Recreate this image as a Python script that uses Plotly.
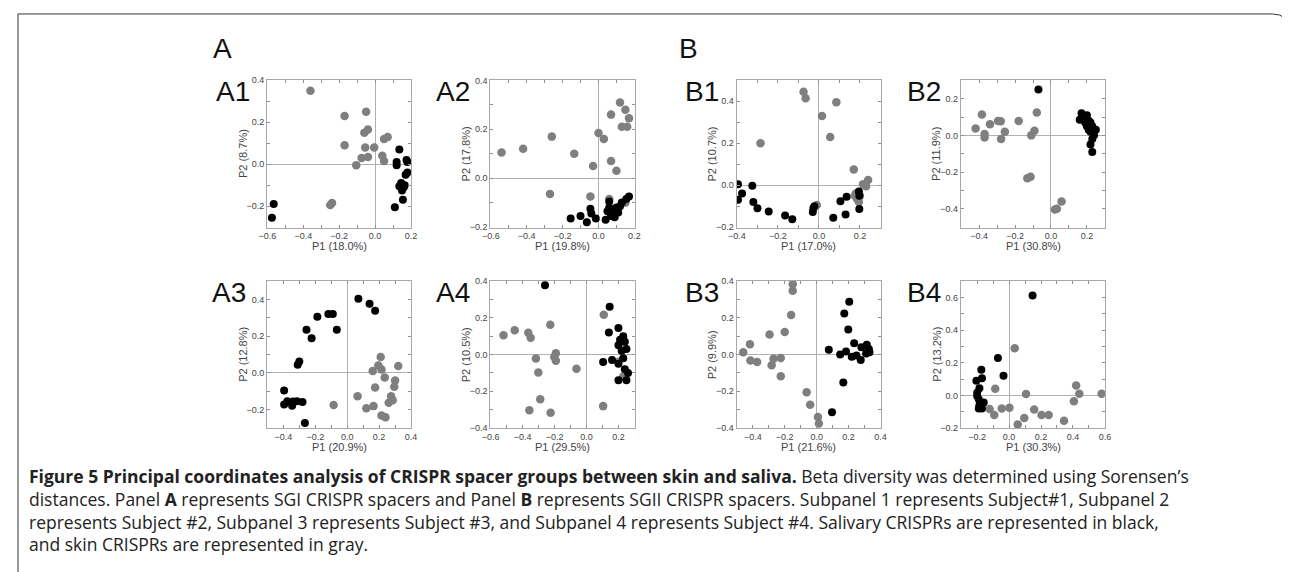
import plotly.graph_objects as go

# ---- data (skin = gray, saliva = black) ----
a1_skin_x = [-0.36, -0.17, -0.05, -0.04, -0.06, -0.17, 0.07, 0.05, -0.055, -0.005, -0.075, -0.04, -0.105, 0.04, 0.05, -0.24, -0.25]
a1_skin_y = [0.35, 0.23, 0.25, 0.165, 0.15, 0.09, 0.13, 0.12, 0.08, 0.08, 0.03, 0.035, -0.005, 0.04, 0.015, -0.185, -0.195]
a1_saliva_x = [-0.565, -0.575, 0.135, 0.12, 0.12, 0.175, 0.18, 0.17, 0.18, 0.135, 0.165, 0.15, 0.16, 0.155, 0.11, 0.145]
a1_saliva_y = [-0.19, -0.255, 0.07, -0.005, 0.01, 0.02, 0.01, -0.05, -0.04, -0.105, -0.1, -0.125, -0.11, -0.17, -0.205, -0.09]

a2_skin_x = [-0.54, -0.42, -0.26, -0.135, -0.03, 0.0, 0.03, 0.07, 0.07, -0.27, -0.045, 0.06, 0.12, 0.15, 0.13, 0.16, 0.17, 0.1, 0.15]
a2_skin_y = [0.105, 0.12, 0.17, 0.1, 0.05, 0.185, 0.16, 0.26, 0.07, -0.065, -0.075, -0.085, 0.31, 0.28, 0.21, 0.21, 0.245, 0.03, -0.1]
a2_saliva_x = [-0.155, -0.1, -0.065, -0.045, -0.04, -0.015, 0.04, 0.05, 0.06, 0.07, 0.08, 0.09, 0.11, 0.12, 0.13, 0.155, 0.17, 0.1, 0.06]
a2_saliva_y = [-0.165, -0.155, -0.18, -0.125, -0.145, -0.165, -0.17, -0.135, -0.12, -0.155, -0.13, -0.16, -0.14, -0.115, -0.1, -0.085, -0.075, -0.12, -0.095]

b1_skin_x = [-0.075, -0.065, 0.085, 0.015, 0.055, -0.285, 0.17, 0.24, 0.215, 0.23, 0.175, 0.185, 0.195, 0.18, -0.01, 0.2]
b1_skin_y = [0.445, 0.415, 0.395, 0.33, 0.23, 0.2, 0.075, 0.025, 0.005, -0.005, -0.05, -0.065, -0.08, -0.04, -0.095, -0.05]
b1_saliva_x = [-0.395, -0.395, -0.375, -0.325, -0.32, -0.3, -0.245, -0.165, -0.13, -0.03, -0.027, -0.022, 0.07, 0.105, 0.13, 0.135, 0.195, 0.197, 0.197]
b1_saliva_y = [0.005, -0.07, -0.04, -0.003, -0.08, -0.11, -0.125, -0.145, -0.163, -0.128, -0.11, -0.1, -0.155, -0.077, -0.14, -0.055, -0.03, -0.05, -0.113]

b2_skin_x = [-0.42, -0.385, -0.34, -0.295, -0.28, -0.37, -0.37, -0.257, -0.278, -0.18, -0.11, -0.092, -0.079, -0.132, -0.114, 0.022, 0.033, 0.059]
b2_skin_y = [0.038, 0.114, 0.06, 0.078, 0.077, 0.007, -0.011, 0.02, -0.02, 0.078, 0.0, 0.025, 0.125, -0.234, -0.225, -0.404, -0.4, -0.36]
b2_saliva_x = [-0.07, 0.16, 0.17, 0.19, 0.2, 0.21, 0.22, 0.2, 0.23, 0.24, 0.22, 0.24, 0.23, 0.25, 0.22, 0.23, 0.19, 0.21]
b2_saliva_y = [0.25, 0.085, 0.12, 0.1, 0.11, 0.08, 0.07, 0.05, 0.05, 0.03, 0.02, 0.0, -0.02, 0.03, -0.05, -0.09, 0.07, 0.03]

a3_skin_x = [-0.085, 0.21, 0.195, 0.215, 0.16, 0.32, 0.235, 0.3, 0.295, 0.175, 0.065, 0.275, 0.285, 0.26, 0.165, 0.12, 0.215, 0.24]
a3_skin_y = [-0.175, 0.087, 0.04, 0.019, 0.01, 0.037, -0.025, -0.042, -0.076, -0.08, -0.127, -0.127, -0.149, -0.163, -0.181, -0.193, -0.232, -0.242]
a3_saliva_x = [0.07, 0.14, 0.175, -0.118, -0.09, -0.187, -0.255, -0.065, -0.223, -0.3, -0.31, -0.395, -0.395, -0.375, -0.34, -0.315, -0.28, -0.345, -0.265]
a3_saliva_y = [0.404, 0.377, 0.338, 0.32, 0.32, 0.306, 0.235, 0.235, 0.188, 0.062, 0.044, -0.096, -0.172, -0.154, -0.156, -0.154, -0.158, -0.179, -0.273]

a4_skin_x = [-0.52, -0.45, -0.365, -0.35, -0.227, -0.192, -0.202, -0.192, -0.317, -0.302, -0.063, -0.29, -0.358, -0.225, 0.104, 0.108, 0.2, 0.23]
a4_skin_y = [0.105, 0.132, 0.119, 0.091, 0.162, 0.007, -0.014, -0.034, -0.021, -0.098, -0.077, -0.244, -0.304, -0.317, -0.281, 0.217, -0.04, -0.12]
a4_saliva_x = [-0.26, 0.145, 0.104, 0.14, 0.2, 0.23, 0.24, 0.2, 0.22, 0.25, 0.23, 0.2, 0.24, 0.26, 0.2, 0.25, 0.16, 0.21]
a4_saliva_y = [0.377, 0.26, -0.041, 0.12, 0.145, 0.1, 0.07, 0.05, 0.02, 0.03, -0.02, -0.05, -0.08, -0.1, -0.14, -0.14, -0.03, 0.08]

b3_skin_x = [-0.15, -0.15, -0.16, -0.2, -0.295, -0.418, -0.46, -0.415, -0.373, -0.27, -0.282, -0.225, -0.225, -0.063, -0.041, 0.008, 0.014]
b3_skin_y = [0.383, 0.347, 0.215, 0.123, 0.109, 0.056, 0.012, -0.032, -0.041, -0.023, -0.058, -0.019, -0.118, -0.206, -0.273, -0.34, -0.376]
b3_saliva_x = [0.204, 0.173, 0.198, 0.076, 0.147, 0.184, 0.235, 0.22, 0.249, 0.276, 0.28, 0.314, 0.327, 0.331, 0.31, 0.167, 0.096]
b3_saliva_y = [0.287, 0.224, 0.136, 0.026, 0.0, 0.016, 0.062, -0.012, -0.005, -0.03, 0.039, 0.053, 0.03, 0.012, 0.005, -0.153, -0.314]

b4_skin_x = [0.035, -0.087, 0.106, 0.42, 0.406, -0.122, -0.093, -0.046, 0.002, 0.054, 0.095, 0.157, 0.203, 0.248, 0.344, 0.44, 0.58]
b4_skin_y = [0.289, 0.04, 0.008, 0.06, -0.036, -0.084, -0.12, -0.08, -0.076, -0.179, -0.139, -0.086, -0.12, -0.12, -0.155, 0.01, 0.01]
b4_saliva_x = [0.147, -0.07, -0.035, -0.174, -0.17, -0.205, -0.186, -0.2, -0.2, -0.19, -0.18, -0.159, -0.19, -0.17, -0.186]
b4_saliva_y = [0.612, 0.229, 0.12, 0.157, 0.104, 0.09, 0.044, 0.016, -0.004, -0.024, -0.044, -0.044, -0.08, -0.08, -0.06]

panel_names = ['A1', 'A2', 'B1', 'B2', 'A3', 'A4', 'B3', 'B4']
p1_titles = ['P1 (18.0%)', 'P1 (19.8%)', 'P1 (17.0%)', 'P1 (30.8%)', 'P1 (20.9%)', 'P1 (29.5%)', 'P1 (21.6%)', 'P1 (30.3%)']
p2_titles = ['P2 (8.7%)', 'P2 (17.8%)', 'P2 (10.7%)', 'P2 (11.9%)', 'P2 (12.8%)', 'P2 (10.5%)', 'P2 (9.9%)', 'P2 (13.2%)']
x_ranges = [[-0.6, 0.2], [-0.6, 0.2], [-0.4, 0.3], [-0.5, 0.3], [-0.5, 0.4], [-0.6, 0.3], [-0.5, 0.4], [-0.3, 0.6]]
y_ranges = [[-0.3, 0.4], [-0.2, 0.4], [-0.2, 0.5], [-0.5, 0.3], [-0.3, 0.5], [-0.4, 0.4], [-0.4, 0.4], [-0.2, 0.7]]

skin = [(a1_skin_x, a1_skin_y), (a2_skin_x, a2_skin_y), (b1_skin_x, b1_skin_y), (b2_skin_x, b2_skin_y),
        (a3_skin_x, a3_skin_y), (a4_skin_x, a4_skin_y), (b3_skin_x, b3_skin_y), (b4_skin_x, b4_skin_y)]
saliva = [(a1_saliva_x, a1_saliva_y), (a2_saliva_x, a2_saliva_y), (b1_saliva_x, b1_saliva_y), (b2_saliva_x, b2_saliva_y),
          (a3_saliva_x, a3_saliva_y), (a4_saliva_x, a4_saliva_y), (b3_saliva_x, b3_saliva_y), (b4_saliva_x, b4_saliva_y)]

caption = ("<b>Figure 5 Principal coordinates analysis of CRISPR spacer groups between skin and saliva.</b> "
           "Beta diversity was determined using Sorensen’s<br>"
           "distances. Panel <b>A</b> represents SGI CRISPR spacers and Panel <b>B</b> represents SGII CRISPR spacers. "
           "Subpanel 1 represents Subject#1, Subpanel 2<br>"
           "represents Subject #2, Subpanel 3 represents Subject #3, and Subpanel 4 represents Subject #4. "
           "Salivary CRISPRs are represented in black,<br>"
           "and skin CRISPRs are represented in gray.")

# ---- layout geometry (pixels) ----
W, H = 1290, 572
cols = [(253, 399), (479, 625), (728, 874), (955, 1101)]
rows = [(69, 219), (273, 423)]
label_right = [238, 460, 712, 937, 234, 460, 712, 937]


def px(x):
    return x / W


def py(y):
    return 1 - y / H


fig = go.Figure()
layout = dict(width=W, height=H, margin=dict(l=0, r=0, t=0, b=0),
              paper_bgcolor='white', plot_bgcolor='white', showlegend=False,
              font=dict(family='Liberation Sans, Arial, sans-serif', color='#333'))
annotations = []

for i in range(8):
    x0, x1 = cols[i % 4]
    y0, y1 = rows[i // 4]
    n = '' if i == 0 else str(i + 1)
    fig.add_trace(go.Scatter(x=skin[i][0], y=skin[i][1], mode='markers', xaxis='x' + n, yaxis='y' + n,
                             marker=dict(color='#7f7f7f', size=8.5)))
    fig.add_trace(go.Scatter(x=saliva[i][0], y=saliva[i][1], mode='markers', xaxis='x' + n, yaxis='y' + n,
                             marker=dict(color='black', size=8)))
    common = dict(showline=True, linecolor='#a8a8a8', linewidth=1, mirror='ticks', ticks='inside',
                  ticklen=3, tickcolor='#909090', dtick=0.2, tick0=0, tickformat='.1f',
                  tickfont=dict(size=9, color='#444'), showgrid=False,
                  zeroline=True, zerolinecolor='#b0b0b0', zerolinewidth=1,
                  minor=dict(ticks='inside', dtick=0.1, ticklen=3, tickcolor='#909090'))
    xr, yr = x_ranges[i], y_ranges[i]
    layout['xaxis' + n] = dict(common, domain=[px(x0), px(x1)], anchor='y' + n,
                               range=[xr[0] - 0.002, xr[1] + 0.002])
    layout['yaxis' + n] = dict(common, domain=[py(y1), py(y0)], anchor='x' + n,
                               range=[yr[0] - 0.002, yr[1] + 0.002])
    # axis titles
    annotations.append(dict(text=p1_titles[i], x=px((x0 + x1) / 2), y=py(y1 + 19), xref='paper', yref='paper',
                            showarrow=False, font=dict(size=11, color='#444'), xanchor='center', yanchor='middle'))
    annotations.append(dict(text=p2_titles[i], x=px(x0 - 25), y=py((y0 + y1) / 2), xref='paper', yref='paper',
                            showarrow=False, textangle=-90, font=dict(size=11, color='#444'),
                            xanchor='center', yanchor='middle'))
    # panel label
    annotations.append(dict(text=panel_names[i], x=px(label_right[i]), y=py(y0 + 12), xref='paper', yref='paper',
                            showarrow=False, font=dict(size=28, color='#111'), xanchor='right', yanchor='middle'))

# group letters
annotations.append(dict(text='A', x=px(196), y=py(37), xref='paper', yref='paper', showarrow=False,
                        font=dict(size=28, color='#111'), xanchor='left', yanchor='middle'))
annotations.append(dict(text='B', x=px(668), y=py(37), xref='paper', yref='paper', showarrow=False,
                        font=dict(size=28, color='#111'), xanchor='left', yanchor='middle'))

# caption
annotations.append(dict(text=caption, x=px(10), y=py(457), xref='paper', yref='paper', showarrow=False,
                        align='left', xanchor='left', yanchor='top',
                        font=dict(size=17.5, color='#222', family='Open Sans, Noto Sans, sans-serif')))

layout['annotations'] = annotations
# frame with rounded top-right corner
layout['shapes'] = [dict(type='path', xref='paper', yref='paper', line=dict(color='#333', width=1),
                         path='M {},{} L {},{} L {},{} Q {},{} {},{} L {},{}'.format(
                             px(1), py(572), px(1), py(2), px(1270), py(2),
                             px(1287), py(2), px(1287), py(19), px(1287), py(572)))]

fig.update_layout(**layout)
fig.write_html('out.html')
